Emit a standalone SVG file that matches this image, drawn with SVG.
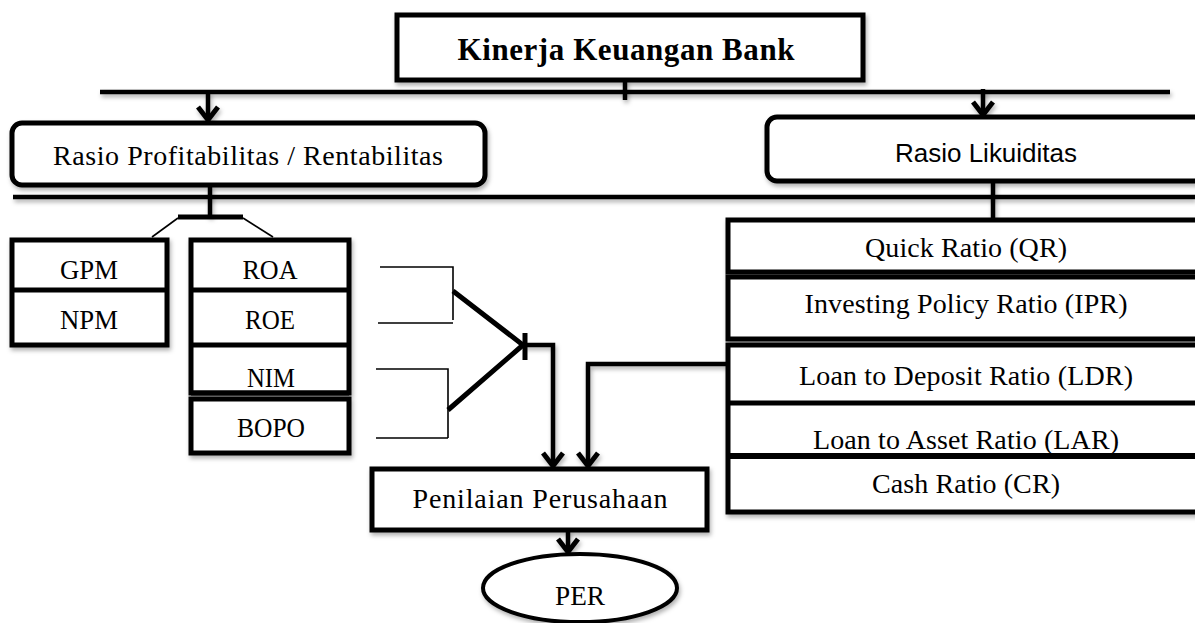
<svg xmlns="http://www.w3.org/2000/svg" width="1195" height="623" viewBox="0 0 1195 623">
<defs>
<filter id="sh" filterUnits="userSpaceOnUse" x="0" y="0" width="1195" height="623">
<feDropShadow dx="1.5" dy="3" stdDeviation="2" flood-color="#000" flood-opacity="0.3"/>
</filter>
<marker id="ah" viewBox="0 0 24 24" markerWidth="24" markerHeight="24" refX="19" refY="12" orient="auto" markerUnits="userSpaceOnUse">
<path d="M6,2 L19,12 L6,22" fill="none" stroke="#000" stroke-width="5" stroke-linejoin="miter"/>
</marker>
</defs>
<style>
.box{fill:#fff;stroke:#000;stroke-width:5;filter:url(#sh)}
.line{fill:none;stroke:#000;stroke-width:4.5;filter:url(#sh)}
.thin{fill:none;stroke:#000;stroke-width:1.6}
.thick{fill:none;stroke:#000;stroke-width:5}
.t{font-family:"Liberation Serif","Times New Roman",serif;font-size:28px;fill:#000;text-anchor:middle}
.ts{font-family:"Liberation Sans",Arial,sans-serif;font-size:26px;fill:#000;text-anchor:middle}
.tb{font-family:"Liberation Serif","Times New Roman",serif;font-size:31px;font-weight:bold;fill:#000;text-anchor:middle}
</style>
<rect width="1195" height="623" fill="#fff"/>

<g id="connectors">
<line class="line" x1="100" y1="92" x2="1170" y2="92"/>
<line class="line" x1="625" y1="80" x2="625" y2="100"/>
<line class="line" x1="208" y1="92" x2="208" y2="120" marker-end="url(#ah)"/>
<line class="line" x1="983" y1="89" x2="983" y2="115" marker-end="url(#ah)"/>
<line class="line" x1="13" y1="197" x2="1195" y2="197"/>
<line class="line" x1="210" y1="185" x2="210" y2="217"/>
<line class="thick" x1="178" y1="217" x2="243" y2="217"/>
<line class="thin" x1="178" y1="218" x2="152" y2="237"/>
<line class="thin" x1="243" y1="218" x2="273" y2="237"/>
<line class="line" x1="993" y1="181" x2="993" y2="219"/>
<path class="thin" d="M380,267 H453 V320 M378,323 H453"/>
<path class="thin" d="M376,369 H448 V438 M376,438 H448"/>
<path class="thick" d="M453,291 L523,345 L448,410"/>
<line class="thick" x1="525" y1="333" x2="525" y2="360"/>
<path class="line" d="M523,345 H553 V466" marker-end="url(#ah)"/>
<path class="line" d="M727,364 H588 V466" marker-end="url(#ah)"/>
<line class="line" x1="568" y1="530" x2="568" y2="552" marker-end="url(#ah)"/>
</g>

<g id="kinerja">
<rect class="box" x="397" y="15" width="466" height="65"/>
<text class="tb" x="626" y="60" textLength="337" lengthAdjust="spacing">Kinerja Keuangan Bank</text>
</g>

<g id="profitabilitas">
<rect class="box" x="12" y="123" width="473" height="62" rx="10"/>
<text class="t" x="248" y="165" textLength="390" lengthAdjust="spacing">Rasio Profitabilitas / Rentabilitas</text>
</g>

<g id="likuiditas">
<rect class="box" x="767" y="117" width="445" height="64" rx="10"/>
<text class="ts" x="986" y="162" textLength="182" lengthAdjust="spacing">Rasio Likuiditas</text>
</g>

<g id="gpm-npm">
<rect class="box" x="12" y="240" width="155" height="105"/>
<line class="thick" x1="12" y1="290" x2="167" y2="290"/>
<text class="t" x="89" y="279" textLength="58" lengthAdjust="spacingAndGlyphs">GPM</text>
<text class="t" x="89" y="329" textLength="58" lengthAdjust="spacingAndGlyphs">NPM</text>
</g>

<g id="roa-roe-nim">
<rect class="box" x="191" y="240" width="158" height="153"/>
<text class="t" x="270" y="279" textLength="55" lengthAdjust="spacingAndGlyphs">ROA</text>
<text class="t" x="270" y="329" textLength="50" lengthAdjust="spacingAndGlyphs">ROE</text>
<text class="t" x="271" y="387" textLength="48" lengthAdjust="spacingAndGlyphs">NIM</text>
<line class="thick" x1="191" y1="290" x2="349" y2="290"/>
<line class="thick" x1="191" y1="345" x2="349" y2="345"/>
<line class="thick" x1="191" y1="393" x2="349" y2="393"/>
</g>

<g id="bopo">
<rect class="box" x="191" y="399" width="158" height="54"/>
<text class="t" x="271" y="437" textLength="68" lengthAdjust="spacingAndGlyphs">BOPO</text>
</g>

<g id="qr">
<rect class="box" x="728" y="220" width="480" height="52"/>
<text class="t" x="966" y="257" textLength="202" lengthAdjust="spacing">Quick Ratio (QR)</text>
</g>

<g id="ipr">
<rect class="box" x="728" y="277" width="480" height="62"/>
<text class="t" x="966" y="313" textLength="323" lengthAdjust="spacing">Investing Policy Ratio (IPR)</text>
</g>

<g id="ldr-lar-cr">
<rect class="box" x="728" y="345" width="480" height="167"/>
<text class="t" x="966" y="385" textLength="334" lengthAdjust="spacing">Loan to Deposit Ratio (LDR)</text>
<text class="t" x="966" y="449" textLength="306" lengthAdjust="spacing">Loan to Asset Ratio (LAR)</text>
<text class="t" x="966" y="493" textLength="188" lengthAdjust="spacing">Cash Ratio (CR)</text>
<line class="thick" x1="728" y1="403" x2="1208" y2="403"/>
<line class="thick" x1="728" y1="456" x2="1208" y2="456" style="stroke-width:6"/>
</g>

<g id="penilaian">
<rect class="box" x="372" y="469" width="335" height="61"/>
<text class="t" x="540" y="508" textLength="255" lengthAdjust="spacing">Penilaian Perusahaan</text>
</g>

<g id="per">
<ellipse class="box" cx="580" cy="588" rx="97" ry="34" style="stroke-width:4"/>
<text class="t" x="580" y="605" textLength="50" lengthAdjust="spacingAndGlyphs">PER</text>
</g>
</svg>
